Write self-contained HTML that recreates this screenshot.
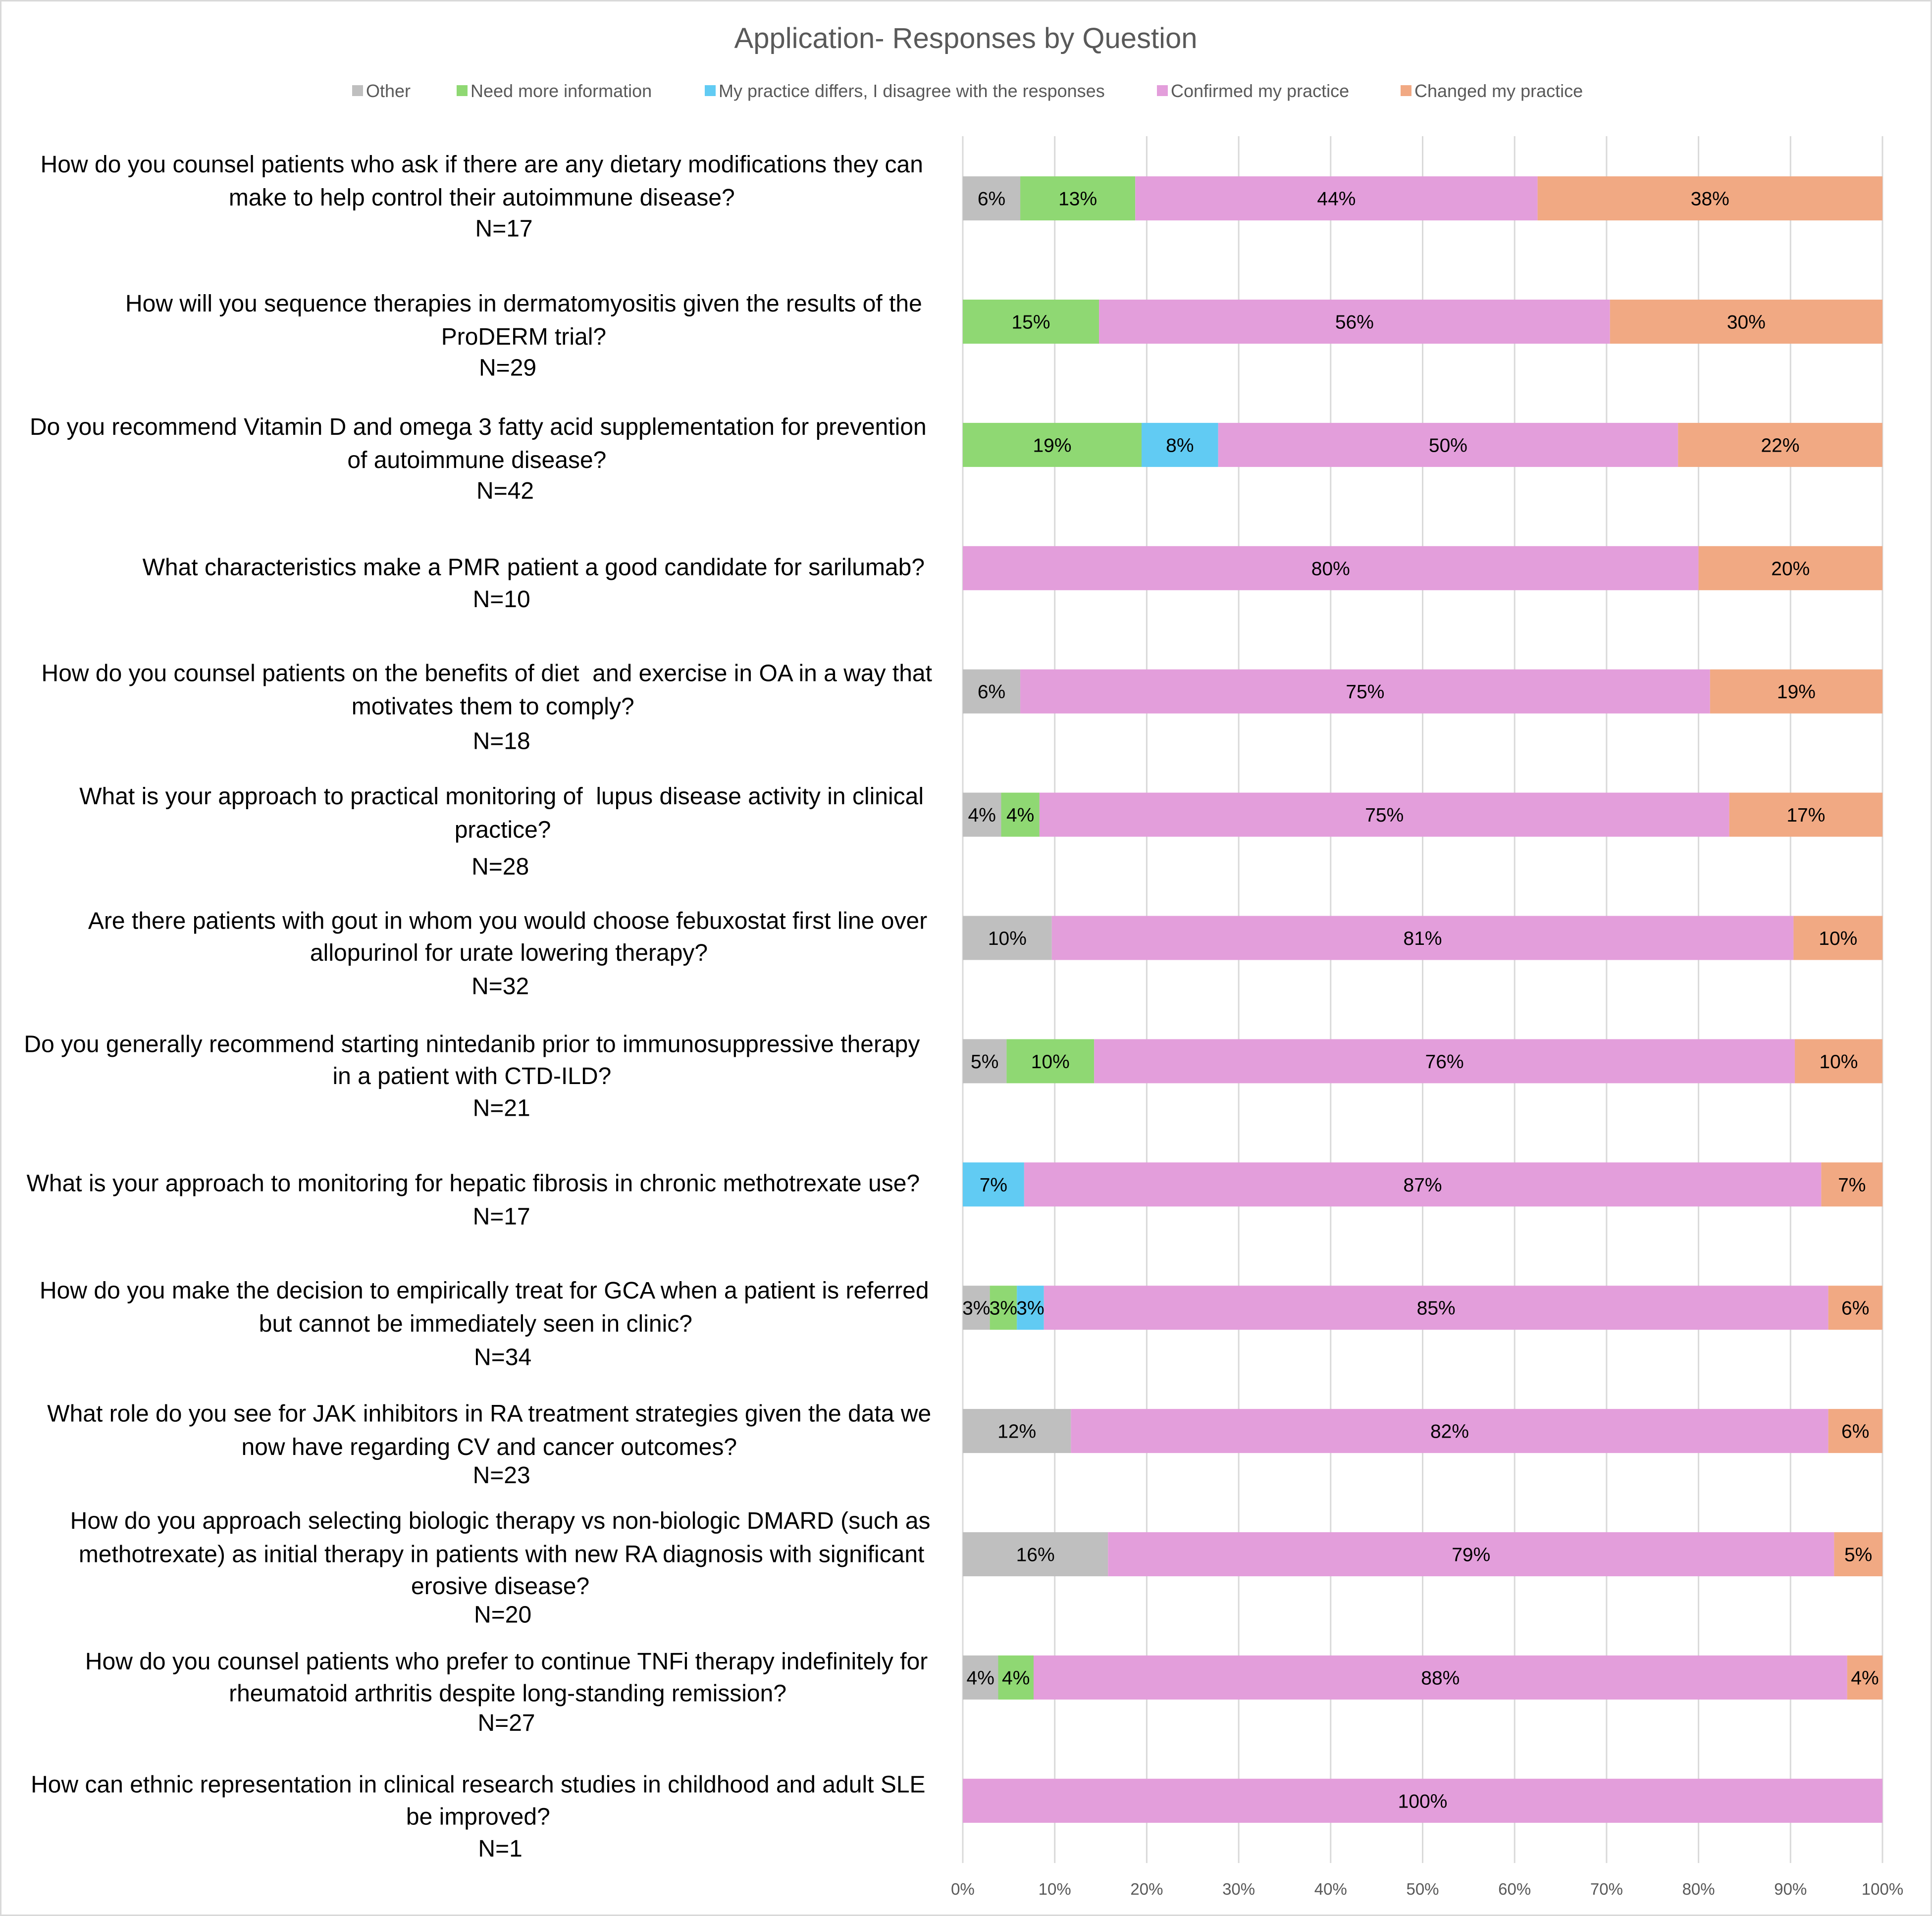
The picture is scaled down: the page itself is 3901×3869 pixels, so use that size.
<!DOCTYPE html>
<html><head><meta charset="utf-8"><style>
html,body{margin:0;padding:0;background:#fff;}
svg{display:block;font-family:"Liberation Sans",sans-serif;}
</style></head>
<body>
<svg id="chart" width="3901" height="3869" viewBox="0 0 3901 3869" xmlns="http://www.w3.org/2000/svg">
<rect x="1.5" y="1.5" width="3898" height="3866" fill="#fff" stroke="#d9d9d9" stroke-width="3"/>
<text x="1950" y="97" text-anchor="middle" font-size="58" fill="#595959">Application- Responses by Question</text>
<g id="legend"></g>
<g id="grid"></g>
<g id="bars"></g>
<g id="labels"></g>
<g id="ticks"></g>
</svg>
<script>
const seriesNames = ["Other","Need more information","My practice differs, I disagree with the responses","Confirmed my practice","Changed my practice"];
const seriesColors = ["#BFBFBF","#8FD873","#61CBF3","#E39EDB","#F1A983"];
const otherVals =     [6.25, 0, 0, 0, 6.25, 4.17, 9.68, 4.76, 0, 2.94, 11.76, 15.79, 3.85, 0];
const needInfoVals =  [12.5, 14.81, 19.44, 0, 0, 4.17, 0, 9.52, 0, 2.94, 0, 0, 3.85, 0];
const differsVals =   [0, 0, 8.33, 0, 0, 0, 0, 0, 6.67, 2.94, 0, 0, 0, 0];
const confirmedVals = [43.75, 55.56, 50, 80, 75, 75, 80.65, 76.19, 86.67, 85.29, 82.35, 78.95, 88.46, 100];
const changedVals =   [37.5, 29.63, 22.22, 20, 18.75, 16.67, 9.68, 9.52, 6.67, 5.88, 5.88, 5.26, 3.85, 0];
const tickLabels = ["0%","10%","20%","30%","40%","50%","60%","70%","80%","90%","100%"];
const questions = [
 ["How do you counsel patients who ask if there are any dietary modifications they can","make to help control their autoimmune disease?","N=17"],
 ["How will you sequence therapies in dermatomyositis given the results of the","ProDERM trial?","N=29"],
 ["Do you recommend Vitamin D and omega 3 fatty acid supplementation for prevention","of autoimmune disease?","N=42"],
 ["What characteristics make a PMR patient a good candidate for sarilumab?","N=10"],
 ["How do you counsel patients on the benefits of diet  and exercise in OA in a way that","motivates them to comply?","N=18"],
 ["What is your approach to practical monitoring of  lupus disease activity in clinical","practice?","N=28"],
 ["Are there patients with gout in whom you would choose febuxostat first line over","allopurinol for urate lowering therapy?","N=32"],
 ["Do you generally recommend starting nintedanib prior to immunosuppressive therapy","in a patient with CTD-ILD?","N=21"],
 ["What is your approach to monitoring for hepatic fibrosis in chronic methotrexate use?","N=17"],
 ["How do you make the decision to empirically treat for GCA when a patient is referred","but cannot be immediately seen in clinic?","N=34"],
 ["What role do you see for JAK inhibitors in RA treatment strategies given the data we","now have regarding CV and cancer outcomes?","N=23"],
 ["How do you approach selecting biologic therapy vs non-biologic DMARD (such as","methotrexate) as initial therapy in patients with new RA diagnosis with significant","erosive disease?","N=20"],
 ["How do you counsel patients who prefer to continue TNFi therapy indefinitely for","rheumatoid arthritis despite long-standing remission?","N=27"],
 ["How can ethnic representation in clinical research studies in childhood and adult SLE","be improved?","N=1"]
];
const S=2.488;
const lineY=[[133,160,185],[246,273,298],[346,373,398],[460,486],[546,573,601],[646,673,703],[747,773,800],[847,873,899],[960,987],[1047,1074,1101],[1147,1174,1197],[1234,1261,1287,1310],[1348,1374,1398],[1448,1474,1500]];
const lineX=[[391,391,409],[425,425,412],[388,387,410],[433,407],[395,400,407],[407,408,406],[412,413,406],[383,383,407],[384,407],[393,386,408],[397,397,407],[406,407,406,408],[411,412,411],[388,388,406]];
const X0=1944,X1=3801,GT=275,GB=3762,B0=400.6,BS=248.9,BH=89;
const xs=v=>X0+(X1-X0)*v/100;
const ys=i=>B0+BS*i;
const NS="http://www.w3.org/2000/svg";
function mk(tag,attrs,parent){const e=document.createElementNS(NS,tag);for(const k in attrs)e.setAttribute(k,attrs[k]);parent.appendChild(e);return e;}
const leg=document.getElementById('legend');
const legX=[711,922,1423,2336,2828];
seriesNames.forEach((n,i)=>{
 const r=mk('rect',{x:legX[i],y:172,width:22,height:22,fill:seriesColors[i]},leg);
 
 
 const t=mk('text',{x:legX[i]+22+6,y:196,'font-size':36,fill:'#595959'},leg);
 t.textContent=n;
 
 
});
const grid=document.getElementById('grid'),tk=document.getElementById('ticks');
tickLabels.forEach((lab,i)=>{
 const x=xs(i*10);
 const l=mk('line',{x1:x,x2:x,y1:GT,y2:GB,stroke:'#d9d9d9','stroke-width':3},grid);
 
 
 const t=mk('text',{x:x,y:3826,'text-anchor':'middle','font-size':33,fill:'#595959'},tk);
 t.textContent=lab;
 
 
});
const bars=document.getElementById('bars');
const series=[otherVals,needInfoVals,differsVals,confirmedVals,changedVals];
questions.forEach((q,i)=>{
 let acc=0;
 const yc=ys(i);
 series.forEach((arr,s)=>{
  const v=arr[i];
  if(v>0){
   const r=mk('rect',{x:xs(acc),y:yc-BH/2,width:xs(acc+v)-xs(acc),height:BH,fill:seriesColors[s]},bars);
   
   
   const t=mk('text',{x:(xs(acc)+xs(acc+v))/2,y:yc+14,'text-anchor':'middle','font-size':39,fill:'#000'},bars);
   t.textContent=Math.round(v)+'%';
   
   
  }
  acc+=v;
 });
});
const lg=document.getElementById('labels');
questions.forEach((q,i)=>{
 q.forEach((line,j)=>{
  const t=mk('text',{x:lineX[i][j]*S,y:lineY[i][j]*S+17,'text-anchor':'middle','font-size':48,fill:'#000'},lg);
  t.textContent=line;
  
  
  t.style.whiteSpace='pre';
 });
});
</script>
</body></html>
